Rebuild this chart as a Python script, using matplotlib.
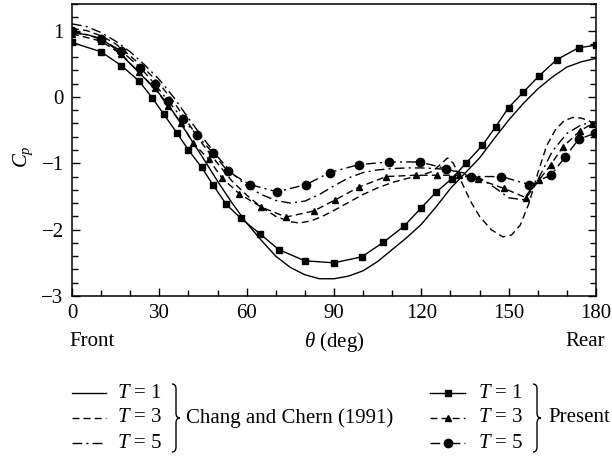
import numpy as np
import matplotlib
matplotlib.use('Agg')
import matplotlib.pyplot as plt
from matplotlib.path import Path
from matplotlib.patches import PathPatch
from matplotlib.ticker import MultipleLocator

plt.rcParams['font.family'] = ['Liberation Serif', 'DejaVu Serif']
plt.rcParams['mathtext.fontset'] = 'custom'
plt.rcParams['mathtext.rm'] = 'Liberation Serif'
plt.rcParams['mathtext.it'] = 'Liberation Serif:italic'
plt.rcParams['font.size'] = 15

# Chang and Chern (1991) curves
theta_c = [0, 5, 10, 15, 20, 25, 30, 35, 40, 45, 50, 55, 60, 65, 70, 75, 80, 85, 90,
           95, 100, 105, 110, 115, 120, 125, 130, 135, 140, 145, 150, 155, 160, 165,
           170, 175, 180]
chang_t1 = [0.96, 0.94, 0.88, 0.72, 0.50, 0.28, 0.05, -0.24, -0.58, -0.92, -1.27, -1.60,
            -1.90, -2.16, -2.40, -2.57, -2.68, -2.74, -2.74, -2.70, -2.62, -2.48, -2.30,
            -2.12, -1.92, -1.66, -1.38, -1.15, -0.92, -0.63, -0.35, -0.10, 0.12, 0.30,
            0.45, 0.53, 0.58]
chang_t5 = [1.10, 1.06, 0.97, 0.84, 0.68, 0.48, 0.26, -0.01, -0.32, -0.62, -0.90, -1.15,
            -1.34, -1.47, -1.56, -1.60, -1.57, -1.47, -1.34, -1.22, -1.14, -1.10, -1.08,
            -1.07, -1.07, -1.08, -1.10, -1.15, -1.22, -1.36, -1.52, -1.55, -1.25, -0.82,
            -0.55, -0.42, -0.37]

theta_c3 = [0, 5, 10, 15, 20, 25, 30, 35, 40, 45, 50, 55, 60, 65, 70, 75, 78, 82, 86, 90,
            95, 100, 105, 110, 115, 120, 124, 127, 129, 131, 134, 137, 140, 144, 148, 151,
            154, 157, 160, 163, 166, 169, 172, 175, 178, 180]
chang_t3 = [1.03, 1.00, 0.92, 0.80, 0.62, 0.42, 0.20, -0.08, -0.40, -0.72, -1.00, -1.27,
            -1.48, -1.66, -1.80, -1.88, -1.90, -1.87, -1.80, -1.71, -1.59, -1.47, -1.37,
            -1.29, -1.23, -1.18, -1.12, -1.00, -0.92, -1.00, -1.30, -1.58, -1.80, -2.00,
            -2.11, -2.08, -1.93, -1.60, -1.15, -0.74, -0.50, -0.36, -0.31, -0.32, -0.37,
            -0.41]

# present results
theta_p1 = [0, 10, 17, 23, 27.5, 31.5, 36, 40, 44.5, 48.5, 53, 58, 64.5, 71, 80, 90, 99.5,
            107, 114, 120, 125, 130.5, 135.5, 141, 145.5, 150, 155, 160.5, 166.5, 174, 180]
present_t1 = [0.82, 0.68, 0.47, 0.24, -0.01, -0.26, -0.54, -0.80, -1.06, -1.33, -1.62,
              -1.83, -2.06, -2.30, -2.47, -2.50, -2.41, -2.19, -1.95, -1.67, -1.44, -1.23,
              -0.99, -0.73, -0.45, -0.16, 0.07, 0.32, 0.56, 0.74, 0.78]

theta_p3 = [0, 10, 17, 23, 28.5, 33, 37.5, 41.5, 47, 51.5, 57.5, 65, 73.5, 83, 90.5, 98.5,
            108, 118, 125.5, 133, 139.5, 148.5, 156, 160.5, 164.5, 168.5, 174.5, 178.5]
present_t3 = [0.95, 0.84, 0.64, 0.37, 0.13, -0.14, -0.39, -0.69, -0.94, -1.22, -1.46,
              -1.66, -1.81, -1.72, -1.55, -1.36, -1.20, -1.18, -1.18, -1.18, -1.24, -1.38,
              -1.52, -1.25, -1.02, -0.76, -0.51, -0.41]

theta_p5 = [0, 10, 17, 23.5, 28.5, 33, 38, 43, 48.5, 53.5, 61, 70.5, 80.5, 88.5, 98.5, 109,
            119.5, 128.5, 137, 147.5, 157, 164.5, 169.5, 174, 179.5]
present_t5 = [1.00, 0.87, 0.69, 0.44, 0.19, -0.06, -0.33, -0.58, -0.85, -1.12, -1.32,
              -1.43, -1.32, -1.14, -1.02, -0.98, -0.98, -1.08, -1.20, -1.20, -1.32, -1.18,
              -0.90, -0.64, -0.55]

dash = (0, (5, 3))
dashdot = (0, (7, 3, 1.5, 3))
lw = 1.0

fig = plt.figure(figsize=(6.12, 4.57), dpi=100)
ax = fig.add_axes([72/612, 1 - 296/457, (596 - 72)/612, (296 - 4)/457])

ax.plot(theta_c, chang_t1, color='black', lw=lw, ls='-')
ax.plot(theta_c3, chang_t3, color='black', lw=lw, ls=dash)
ax.plot(theta_c, chang_t5, color='black', lw=lw, ls=dashdot)
ax.plot(theta_p1, present_t1, color='black', lw=lw, ls='-', marker='s', ms=5)
ax.plot(theta_p3, present_t3, color='black', lw=lw, ls=dash, marker='^', ms=5)
ax.plot(theta_p5, present_t5, color='black', lw=lw, ls=dashdot, marker='o', ms=6)

ax.set_xlim(0, 180)
ax.set_ylim(-3, 1.4)
ax.xaxis.set_major_locator(MultipleLocator(30))
ax.xaxis.set_minor_locator(MultipleLocator(10))
ax.yaxis.set_major_locator(MultipleLocator(1))
ax.yaxis.set_minor_locator(MultipleLocator(0.2))
ax.tick_params(which='both', direction='in', right=True, top=False, width=1.0)
ax.tick_params(which='major', length=6, pad=6, labelsize=15)
ax.tick_params(which='minor', length=4)
for s in ax.spines.values():
    s.set_linewidth(1.1)

# overlay in pixel coordinates for labels and legend
ov = fig.add_axes([0, 0, 1, 1], facecolor='none')
ov.set_xlim(0, 612)
ov.set_ylim(457, 0)
ov.axis('off')

ov.text(23, 157, '$C_p$', rotation=90, ha='center', va='center', fontsize=15)
ov.text(69, 342, 'Front', ha='left', va='center', fontsize=15)
ov.text(605, 342, 'Rear', ha='right', va='center', fontsize=15)
ov.text(334, 342, r'$\theta$ (deg)', ha='center', va='center', fontsize=15)


def brace(x, y0, y1, w):
    ym = (y0 + y1) / 2
    d = 5
    verts = [(x, y0), (x + w/2, y0), (x + w/2, y0 + d),
             (x + w/2, ym - d),
             (x + w/2, ym), (x + w, ym),
             (x + w/2, ym), (x + w/2, ym + d),
             (x + w/2, y1 - d),
             (x + w/2, y1), (x, y1)]
    codes = [Path.MOVETO, Path.CURVE3, Path.CURVE3, Path.LINETO,
             Path.CURVE3, Path.CURVE3, Path.CURVE3, Path.CURVE3,
             Path.LINETO, Path.CURVE3, Path.CURVE3]
    ov.add_patch(PathPatch(Path(verts, codes), fill=False, lw=1.0, color='black'))


rows = [393, 418, 443]
labels = ['$T$ = 1', '$T$ = 3', '$T$ = 5']
styles = ['-', dash, dashdot]
markers = ['s', '^', 'o']
msizes = [5, 5, 6]

for y, lab, st in zip(rows, labels, styles):
    ov.plot([72, 106], [y, y], color='black', lw=lw, ls=st)
    ov.text(117, y, lab, ha='left', va='center', fontsize=15)
brace(172, 384, 452, 8)
ov.text(186, 418, 'Chang and Chern (1991)', ha='left', va='center', fontsize=15)

for y, lab, st, mk, msz in zip(rows, labels, styles, markers, msizes):
    ov.plot([430, 465], [y, y], color='black', lw=lw, ls=st)
    ov.plot([447.5], [y], color='black', marker=mk, ms=msz)
    ov.text(478, y, lab, ha='left', va='center', fontsize=15)
brace(533, 384, 452, 8)
ov.text(548, 418, 'Present', ha='left', va='center', fontsize=15)

fig.savefig('out.png', dpi=100)
